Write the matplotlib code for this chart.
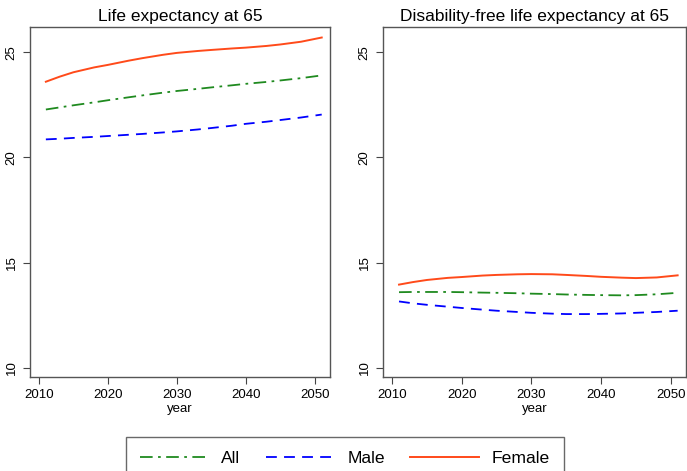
import matplotlib
matplotlib.use("Agg")
import matplotlib.pyplot as plt

plt.rcParams['font.family'] = ['Liberation Sans', 'DejaVu Sans']

years = [2011, 2013, 2015, 2018, 2020, 2023, 2025, 2028, 2030,
         2033, 2035, 2038, 2040, 2043, 2045, 2048, 2051]

# life expectancy at 65
le_all = [22.28, 22.38, 22.48, 22.62, 22.72, 22.86, 22.95, 23.08, 23.16,
          23.26, 23.33, 23.43, 23.5, 23.59, 23.66, 23.77, 23.9]
le_male = [20.86, 20.89, 20.93, 20.98, 21.02, 21.08, 21.12, 21.19, 21.24,
           21.33, 21.4, 21.51, 21.6, 21.7, 21.78, 21.9, 22.04]
le_female = [23.6, 23.84, 24.05, 24.28, 24.4, 24.6, 24.72, 24.88, 24.97,
             25.06, 25.11, 25.18, 25.22, 25.3, 25.37, 25.5, 25.7]

# disability-free life expectancy at 65
dfle_all = [13.6, 13.61, 13.61, 13.61, 13.6, 13.58, 13.57, 13.55, 13.53,
            13.51, 13.49, 13.47, 13.46, 13.45, 13.46, 13.5, 13.57]
dfle_male = [13.16, 13.07, 13.0, 12.91, 12.85, 12.77, 12.72, 12.66, 12.62,
             12.58, 12.56, 12.56, 12.57, 12.59, 12.62, 12.66, 12.72]
dfle_female = [13.96, 14.08, 14.18, 14.28, 14.32, 14.39, 14.42, 14.45, 14.46,
               14.45, 14.42, 14.37, 14.33, 14.29, 14.27, 14.3, 14.4]

titles = ["Life expectancy at 65", "Disability-free life expectancy at 65"]
labels = ["All", "Male", "Female"]

W, H = 687, 471
fig = plt.figure(figsize=(W / 100, H / 100), dpi=100)

def px_axes(x0, y0, x1, y1):
    return fig.add_axes([x0 / W, 1 - y1 / H, (x1 - x0) / W, (y1 - y0) / H])

axes = [px_axes(30, 27, 330, 377), px_axes(383, 27, 686, 377)]
panels = [(le_all, le_male, le_female), (dfle_all, dfle_male, dfle_female)]

handles = []
for ax, title, (a, m, f) in zip(axes, titles, panels):
    h1, = ax.plot(years, a, color='#1f8a1f', lw=1.3, dashes=[7, 3, 1.5, 3])
    h2, = ax.plot(years, m, color='#0000ff', lw=1.3, dashes=[6, 4])
    h3, = ax.plot(years, f, color='#ff4a1a', lw=1.4)
    handles = [h1, h2, h3]
    ax.set_xlim(2008.7, 2052.2)
    ax.set_ylim(9.57, 26.2)
    ax.set_xticks([2010, 2020, 2030, 2040, 2050])
    ax.set_yticks([10, 15, 20, 25])
    ax.tick_params(direction='out', length=5, width=0.8, color='#444444', labelsize=9.5, pad=4)
    for lab in ax.get_yticklabels():
        lab.set_rotation(90)
        lab.set_va('center')
    for s in ax.spines.values():
        s.set_color('#555555')
        s.set_linewidth(1.0)
    ax.set_title(title, fontsize=12.5, pad=4)
    ax.set_xlabel("year", fontsize=9.5, labelpad=1)

leg = fig.legend(handles, labels, ncol=3, loc='upper left',
                 bbox_to_anchor=(126 / W, 1 - 437 / H), fontsize=12.6,
                 handlelength=3.95, columnspacing=1.45, handletextpad=0.7,
                 borderpad=0.8, borderaxespad=0, fancybox=False)
leg.get_frame().set_edgecolor('#444444')
leg.get_frame().set_linewidth(1.0)

fig.savefig("out.png", dpi=100)
